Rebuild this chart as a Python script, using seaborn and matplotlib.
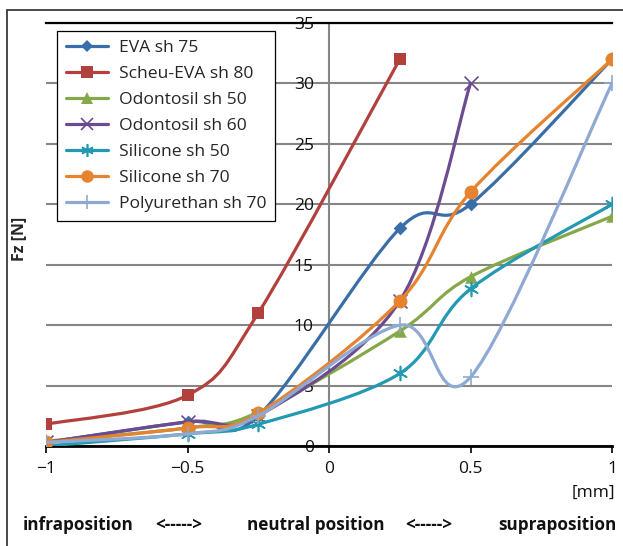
import numpy as np
import matplotlib
matplotlib.use('Agg')
import matplotlib.pyplot as plt
import seaborn as sns
from matplotlib.path import Path
from matplotlib.patches import PathPatch, Rectangle
from matplotlib.lines import Line2D

# ========= data ==================================
x_mm = [-1, -0.5, -0.25, 0.25, 0.5, 1]

eva_75 = [0.3, 2.0, 2.5, 18, 20, 32]
scheu_eva_80 = [1.8, 4.2, 11, 32, None, None]
odontosil_50 = [0.4, 1.5, 2.8, 9.5, 14, 19]
odontosil_60 = [0.3, 2.0, 2.5, 12, 30, None]
silicone_50 = [0.0, 1.0, 1.8, 6, 13, 20]
silicone_70 = [0.3, 1.5, 2.7, 12, 21, 32]
polyurethan_70 = [0.3, 1.0, 2.5, 10, 5.7, 30]

series_names = ['EVA sh 75', 'Scheu-EVA sh 80', 'Odontosil sh 50', 'Odontosil sh 60',
                'Silicone sh 50', 'Silicone sh 70', 'Polyurethan sh 70']
series_values = [eva_75, scheu_eva_80, odontosil_50, odontosil_60,
                 silicone_50, silicone_70, polyurethan_70]

x_ticks = [-1, -0.5, 0, 0.5, 1]
x_tick_labels = ['\u22121', '\u22120.5', '0', '0.5', '1']
y_ticks = [0, 5, 10, 15, 20, 25, 30, 35]

# styles
colors = ['#3A6EA8', '#B2403D', '#87A84A', '#6B4C8F', '#2399B2', '#E5832E', '#8EA9D2']
markers = ['D', 's', '^', 'x', (6, 2, 0), 'o', '+']
marker_sizes = [7, 9, 9, 10, 10, 10, 11]

sns.set_theme(style='white')
plt.rcParams['font.family'] = ['Open Sans', 'DejaVu Sans']


def smooth_path(xs, ys):
    """Excel-like smoothed line: cubic Bezier through points (Catmull-Rom, 1/6)."""
    pts = [(x, y) for x, y in zip(xs, ys) if y is not None]
    p = np.array(pts, dtype=float)
    n = len(p)
    verts = [p[0]]
    codes = [Path.MOVETO]
    for i in range(n - 1):
        p_prev = p[i - 1] if i > 0 else p[i]
        p_next2 = p[i + 2] if i + 2 < n else p[i + 1]
        c1 = p[i] + (p[i + 1] - p_prev) / 6.0
        c2 = p[i + 1] - (p_next2 - p[i]) / 6.0
        verts += [c1, c2, p[i + 1]]
        codes += [Path.CURVE4] * 3
    return Path(verts, codes)


W, H = 623, 546
fig = plt.figure(figsize=(W / 100, H / 100), dpi=100)
ax = fig.add_axes([46 / W, 1 - 446 / H, (612 - 46) / W, (446 - 23) / H])

handles = []
for k, (name, vals) in enumerate(zip(series_names, series_values)):
    c = colors[k]
    path = smooth_path(x_mm, vals)
    ax.add_patch(PathPatch(path, facecolor='none', edgecolor=c, lw=2.3,
                           zorder=3 + k * 0.1, capstyle='round', joinstyle='round'))
    xs = [x for x, y in zip(x_mm, vals) if y is not None]
    ys = [y for y in vals if y is not None]
    m = markers[k]
    line_art = m in ('x', '+') or isinstance(m, tuple)
    sns.scatterplot(x=xs, y=ys, ax=ax, marker=m, s=marker_sizes[k] ** 2,
                    color=c, edgecolor=c, linewidth=1.2 if line_art else 0,
                    zorder=3.05 + k * 0.1, legend=False)
    handles.append(Line2D([], [], color=c, lw=2.3, marker=m,
                          markersize=marker_sizes[k] * 0.9,
                          markeredgewidth=1.2 if line_art else 0,
                          markerfacecolor=c, markeredgecolor=c))

ax.set_xlim(-1, 1)
ax.set_ylim(0, 35)

# axes / spines
ax.spines['left'].set_position(('data', 0))
ax.spines['left'].set_color('#868686')
ax.spines['left'].set_linewidth(1.5)
ax.spines['right'].set_visible(False)
ax.spines['top'].set_color('black')
ax.spines['top'].set_linewidth(1.6)
ax.spines['bottom'].set_color('black')
ax.spines['bottom'].set_linewidth(2.0)
ax.set_zorder(1)

ax.set_yticks(y_ticks)
ax.set_yticklabels([str(v) for v in y_ticks], fontsize=12.5, color='#111111')
ax.tick_params(axis='y', length=0, pad=11)
ax.set_xticks(x_ticks)
ax.set_xticklabels(x_tick_labels, fontsize=12.5, color='#111111')
ax.tick_params(axis='x', length=5, width=1.2, color='black', direction='out', pad=6)
ax.tick_params(axis='x', bottom=True)

ax.yaxis.grid(True, color='#868686', lw=1.5)
ax.xaxis.grid(False)
ax.set_axisbelow(True)

ax.set_ylabel('Fz [N]', fontsize=11.5, fontweight='bold', labelpad=0)
ax.yaxis.set_label_coords((27 - 46) / 566, 0.49)

leg = ax.legend(handles, series_names, loc='upper left',
                bbox_to_anchor=((57 - 46) / 566, (446 - 31) / 423),
                borderaxespad=0, frameon=True, fancybox=False, fontsize=12.6,
                handlelength=2.4, handletextpad=0.65, labelspacing=0.56,
                borderpad=0.5, edgecolor='black', framealpha=1)
leg.get_frame().set_linewidth(0.9)
leg.set_zorder(10)

# texts below the chart
fig.text(615 / W, 1 - 493 / H, '[mm]', ha='right', va='center', fontsize=12.5, color='#111111')
bottom_texts = [(23, 'infraposition'), (155, '<----->'), (247, 'neutral position'),
                (405, '<----->'), (498, 'supraposition')]
for px, txt in bottom_texts:
    fig.text(px / W, 1 - 525 / H, txt, ha='left', va='center', fontsize=12.3,
             fontweight='bold', color='#111111')

# outer frame
fig.patches.append(Rectangle((7 / W, -0.1), 1.0, (H - 10) / H + 0.1, transform=fig.transFigure,
                             fill=False, edgecolor='#3a3a3a', lw=1.3))

fig.savefig('out.png', dpi=100, facecolor='white')
